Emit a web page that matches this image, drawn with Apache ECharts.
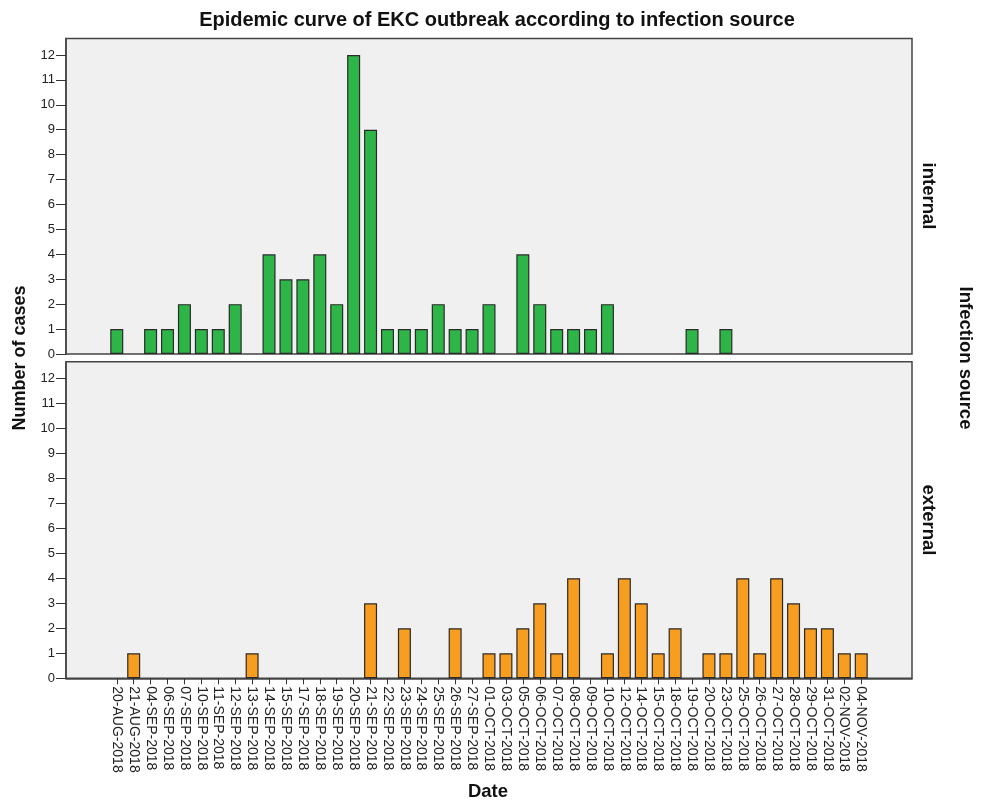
<!DOCTYPE html>
<html>
<head>
<meta charset="utf-8">
<script src="https://cdn.jsdelivr.net/npm/echarts@6/dist/echarts.min.js"></script>
<style>html,body{margin:0;padding:0;background:#fff}#c{width:983px;height:804px}</style>
</head>
<body>
<div id="c"></div>
<script>
const categories = ['20-AUG-2018','21-AUG-2018','04-SEP-2018','06-SEP-2018','07-SEP-2018','10-SEP-2018','11-SEP-2018','12-SEP-2018','13-SEP-2018','14-SEP-2018','15-SEP-2018','17-SEP-2018','18-SEP-2018','19-SEP-2018','20-SEP-2018','21-SEP-2018','22-SEP-2018','23-SEP-2018','24-SEP-2018','25-SEP-2018','26-SEP-2018','27-SEP-2018','01-OCT-2018','03-OCT-2018','05-OCT-2018','06-OCT-2018','07-OCT-2018','08-OCT-2018','09-OCT-2018','10-OCT-2018','12-OCT-2018','14-OCT-2018','15-OCT-2018','18-OCT-2018','19-OCT-2018','20-OCT-2018','23-OCT-2018','25-OCT-2018','26-OCT-2018','27-OCT-2018','28-OCT-2018','29-OCT-2018','31-OCT-2018','02-NOV-2018','04-NOV-2018'];
const internalCases = [1,0,1,1,2,1,1,2,0,4,3,3,4,2,12,9,1,1,1,2,1,1,2,0,4,2,1,1,1,2,0,0,0,0,1,0,1,0,0,0,0,0,0,0,0];
const externalCases = [0,1,0,0,0,0,0,0,1,0,0,0,0,0,0,3,0,2,0,0,2,0,1,1,2,3,1,4,0,1,4,3,1,2,0,1,1,4,1,4,3,2,2,1,1];
const yTicks = [0,1,2,3,4,5,6,7,8,9,10,11,12];
const panelNames = ['internal','external'];

const PAD = 3;
const padded = Array(PAD).fill('').concat(categories, Array(PAD).fill(''));
const padData = arr => Array(PAD).fill(null).concat(arr.map(v => v === 0 ? null : v), Array(PAD).fill(null));

const FONT = 'Liberation Sans, Arial, sans-serif';
const frame = '#444';
const chart = echarts.init(document.getElementById('c'));

function xAxis(gi, show) {
  return {
    type: 'category', gridIndex: gi, data: padded, boundaryGap: false,
    axisLine: { show: show, lineStyle: { color: frame, width: 1.5 } },
    axisTick: { show: show, length: 6, interval: (i, v) => v !== '', lineStyle: { color: '#333', width: 1 } },
    axisLabel: { show: show, rotate: -90, margin: 8, interval: (i, v) => v !== '', fontFamily: FONT, fontSize: 14, color: '#222' },
    splitLine: { show: false }
  };
}
function yAxis(gi) {
  return {
    type: 'value', gridIndex: gi, min: 0, max: 12.66,
    axisLine: { show: true, lineStyle: { color: frame, width: 1.5 } },
    axisTick: { show: true, length: 10, customValues: yTicks, lineStyle: { color: '#333', width: 1 } },
    axisLabel: { margin: 11, customValues: yTicks, fontFamily: FONT, fontSize: 13, color: '#222' },
    splitLine: { show: false }
  };
}
function series(gi, data, color) {
  return {
    type: 'bar', xAxisIndex: gi, yAxisIndex: gi, data: padData(data), barWidth: 13,
    itemStyle: { color: color, borderColor: '#2a2a2a', borderWidth: 1.2 },
    silent: true, animation: false
  };
}

chart.setOption({
  animation: false,
  title: { text: 'Epidemic curve of EKC outbreak according to infection source', left: 492, top: 5, textAlign: 'center',
    textStyle: { fontFamily: FONT, fontSize: 20, fontWeight: 'bold', color: '#111' } },
  grid: [
    { left: 66, width: 846, top: 38.5, height: 315.5, show: true, backgroundColor: '#f0f0f0', borderColor: frame, borderWidth: 1.5 },
    { left: 66, width: 846, top: 361.7, height: 316.6, show: true, backgroundColor: '#f0f0f0', borderColor: frame, borderWidth: 1.5 }
  ],
  xAxis: [xAxis(0, false), xAxis(1, true)],
  yAxis: [yAxis(0), yAxis(1)],
  series: [series(0, internalCases, '#2eb548'), series(1, externalCases, '#f79d20')],
  graphic: [
    { type: 'text', x: 20, y: 358, rotation: Math.PI / 2,
      style: { text: 'Number of cases', font: 'bold 18px ' + FONT, fill: '#111', textAlign: 'center', textVerticalAlign: 'middle' } },
    { type: 'text', x: 488, y: 792,
      style: { text: 'Date', font: 'bold 18.5px ' + FONT, fill: '#111', textAlign: 'center', textVerticalAlign: 'middle' } },
    { type: 'text', x: 928, y: 196, rotation: -Math.PI / 2,
      style: { text: panelNames[0], font: 'bold 18.5px ' + FONT, fill: '#111', textAlign: 'center', textVerticalAlign: 'middle' } },
    { type: 'text', x: 928, y: 520, rotation: -Math.PI / 2,
      style: { text: panelNames[1], font: 'bold 18.5px ' + FONT, fill: '#111', textAlign: 'center', textVerticalAlign: 'middle' } },
    { type: 'text', x: 965, y: 358, rotation: -Math.PI / 2,
      style: { text: 'Infection source', font: 'bold 18.5px ' + FONT, fill: '#111', textAlign: 'center', textVerticalAlign: 'middle' } }
  ]
});
</script>
</body>
</html>
